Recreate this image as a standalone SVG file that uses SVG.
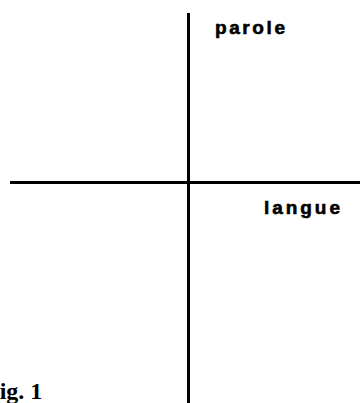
<svg xmlns="http://www.w3.org/2000/svg" width="360" height="403" viewBox="0 0 360 403">
<style>
.ax{stroke:#000;stroke-width:3;fill:none}
.lbl{font-family:"Liberation Sans",Arial,sans-serif;font-weight:bold;font-size:19px;fill:#000;stroke:#000;stroke-width:0.6}
.cap{font-family:"Liberation Serif","Times New Roman",serif;font-weight:bold;font-size:24px;fill:#000}
</style>
<rect width="360" height="403" fill="#fff"/>
<g id="connectors">
<line class="ax" x1="188.5" y1="13" x2="188.5" y2="403"/>
<line class="ax" x1="10" y1="182.5" x2="360" y2="182.5"/>
</g>
<g id="parole"><text class="lbl" x="215" y="34" textLength="70" lengthAdjust="spacing">parole</text></g>
<g id="langue"><text class="lbl" x="264" y="214" textLength="76" lengthAdjust="spacing">langue</text></g>
<g id="fig"><text class="cap" x="-15" y="399">Fig. 1</text></g>
</svg>
